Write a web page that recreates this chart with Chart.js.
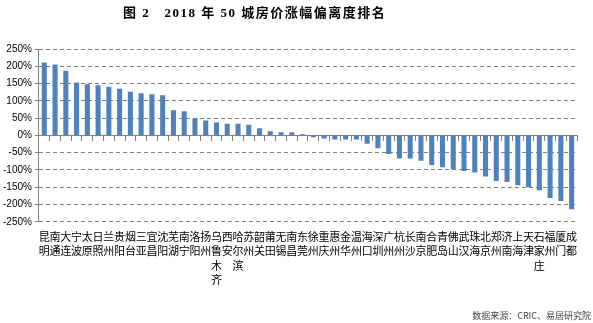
<!DOCTYPE html>
<html lang="zh">
<head>
    <meta charset="UTF-8">
    <title>2018年50城房价涨幅偏离度排名</title>
    <script src="https://cdn.jsdelivr.net/npm/chart.js"></script>
    <style>
        body { margin: 0; background: #fff; }
        .wrap { position: relative; width: 593px; height: 323px; }
        .title {
            position: absolute; left: 123px; top: 2px;
            font: bold 13px "Liberation Serif", "Noto Sans CJK SC", serif;
            letter-spacing: 1.5px; white-space: pre; color: #000;
        }
        .source {
            position: absolute; right: 2px; top: 309px;
            font: 9px "Noto Sans CJK SC", sans-serif; color: #444;
        }
    </style>
</head>
<body>
<div class="wrap">
    <div class="title">图 2   2018 年 50 城房价涨幅偏离度排名</div>
    <canvas id="rankChart" width="593" height="323"></canvas>
    <div class="source">数据来源：CRIC、易居研究院</div>
</div>
<script>
    // 城市（按偏离度从高到低）
    const cities = [
        '昆明', '南通', '大连', '宁波', '太原', '日照', '兰州', '贵阳', '烟台', '三亚',
        '宜昌', '沈阳', '芜湖', '南宁', '洛阳', '扬州', '乌鲁木齐', '西安', '哈尔滨', '苏州',
        '韶关', '莆田', '无锡', '南昌', '东莞', '徐州', '重庆', '惠州', '金华', '温州',
        '海口', '深圳', '广州', '杭州', '长沙', '南京', '合肥', '青岛', '佛山', '武汉',
        '珠海', '北京', '郑州', '济南', '上海', '天津', '石家庄', '福州', '厦门', '成都'
    ];

    // 涨幅偏离度（%）
    const deviation = [
        211, 205, 187, 153, 148, 145, 141, 135, 126, 122,
        119, 116, 73, 70, 49, 43, 37, 34, 34, 31,
        21, 12, 9, 9, 3, -5, -9, -12, -12, -12,
        -24, -37, -54, -67, -67, -73, -86, -92, -98, -103,
        -107, -119, -132, -135, -144, -150, -159, -181, -190, -214
    ];

    // 纵轴刻度
    const yMin = -250;
    const yMax = 250;
    const yStep = 50;

    // 城市名竖排：每个字一行
    const verticalLabels = cities.map(c => c.split(''));

    const ctx = document.getElementById('rankChart').getContext('2d');
    const rankChart = new Chart(ctx, {
        type: 'bar',
        data: {
            labels: verticalLabels,
            datasets: [{
                data: deviation,
                backgroundColor: '#4F81BD',
                barPercentage: 0.47,
                categoryPercentage: 1.0,
                xAxisID: 'x'
            }]
        },
        options: {
            responsive: false,
            animation: false,
            layout: { padding: { left: 0, right: 16, top: 49, bottom: 36 } },
            plugins: {
                legend: { display: false },
                tooltip: { enabled: false }
            },
            scales: {
                // 0% 处的横轴，只画刻度线
                x: {
                    type: 'category',
                    position: { y: 0 },
                    offset: true,
                    grid: {
                        offset: true,
                        drawOnChartArea: false,
                        drawTicks: true,
                        tickLength: 5,
                        color: '#808080'
                    },
                    border: { color: '#808080', width: 1 },
                    ticks: { display: false }
                },
                // 底部城市名
                xl: {
                    type: 'category',
                    position: 'bottom',
                    offset: true,
                    grid: { display: false },
                    border: { display: false },
                    ticks: {
                        autoSkip: false,
                        maxRotation: 0,
                        minRotation: 0,
                        padding: 0,
                        color: '#000',
                        font: { family: '"Noto Sans CJK SC"', size: 11, lineHeight: 1.3 }
                    }
                },
                y: {
                    min: yMin,
                    max: yMax,
                    grid: {
                        color: '#808080',
                        tickLength: 4
                    },
                    border: { color: '#808080', dash: [4, 3] },
                    ticks: {
                        stepSize: yStep,
                        padding: 3,
                        color: '#000',
                        font: { family: '"Liberation Sans", Arial', size: 10 },
                        callback: v => v + '%'
                    }
                }
            }
        }
    });
</script>
</body>
</html>
